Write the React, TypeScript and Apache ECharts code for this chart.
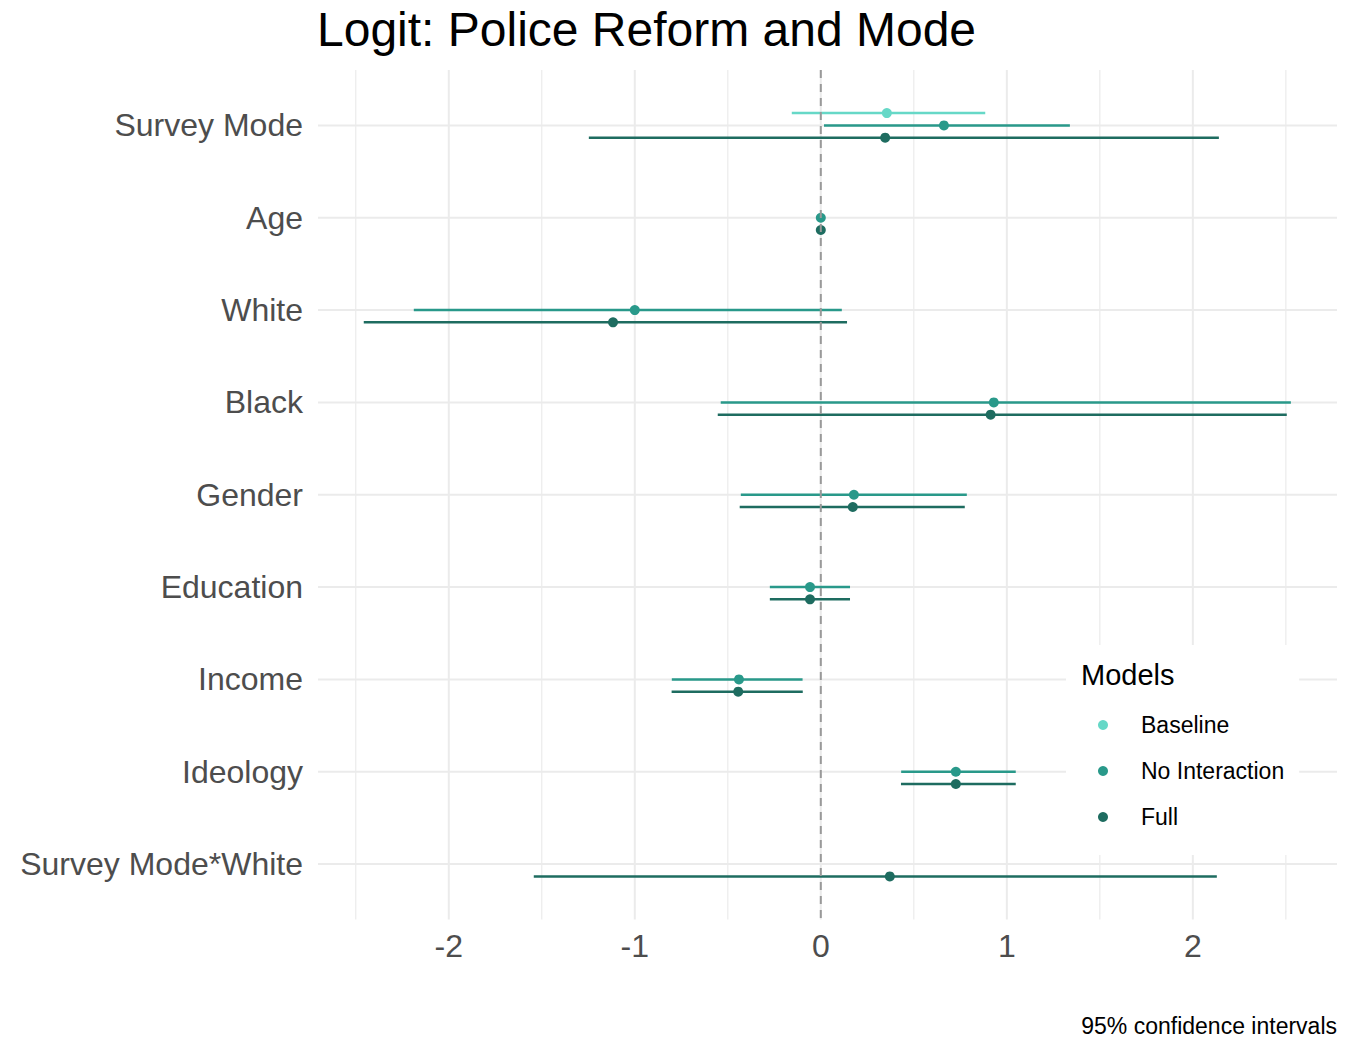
import React, { useEffect, useRef } from "react";
import * as echarts from "echarts";

const categories = [
  "Survey Mode",
  "Age",
  "White",
  "Black",
  "Gender",
  "Education",
  "Income",
  "Ideology",
  "Survey Mode*White",
];
const models = ["Baseline", "No Interaction", "Full"];

const baselineEst = [0.355, null, null, null, null, null, null, null, null];
const baselineLow = [-0.156, null, null, null, null, null, null, null, null];
const baselineHigh = [0.884, null, null, null, null, null, null, null, null];

const noIntEst = [0.662, 0.0, -1.0, 0.93, 0.178, -0.058, -0.44, 0.726, null];
const noIntLow = [0.017, -0.004, -2.188, -0.538, -0.43, -0.274, -0.801, 0.432, null];
const noIntHigh = [1.339, 0.004, 0.113, 2.527, 0.785, 0.157, -0.098, 1.048, null];

const fullEst = [0.346, 0.0, -1.117, 0.913, 0.172, -0.058, -0.444, 0.726, 0.371];
const fullLow = [-1.247, -0.004, -2.457, -0.554, -0.436, -0.274, -0.802, 0.431, -1.543];
const fullHigh = [2.14, 0.004, 0.141, 2.505, 0.774, 0.157, -0.097, 1.048, 2.129];

const xMajorTicks = [-2, -1, 0, 1, 2];
const xMinorTicks = [-2.5, -1.5, -0.5, 0.5, 1.5, 2.5];
const referenceValue = 0;

const colors = ["#66d8c7", "#29998a", "#1e6c60"];
const dodge = [-0.133, 0, 0.133];

const FONT = "'Liberation Sans', Arial, Helvetica, sans-serif";

function errorBarSeries(name: string, est: any[], low: any[], high: any[], color: string, off: number) {
  const data: number[][] = [];
  est.forEach((e, i) => {
    if (e !== null) data.push([low[i], high[i], i + off]);
  });
  return {
    type: "custom",
    name: name + " CI",
    silent: true,
    z: 3,
    encode: { x: [0, 1], y: 2 },
    data,
    renderItem: (params: any, api: any) => {
      const y = api.value(2);
      const p1 = api.coord([api.value(0), y]);
      const p2 = api.coord([api.value(1), y]);
      return {
        type: "line",
        shape: { x1: p1[0], y1: p1[1], x2: p2[0], y2: p2[1] },
        style: { stroke: color, lineWidth: 2.5 },
      };
    },
  };
}

function pointSeries(name: string, est: any[], color: string, off: number) {
  const data: number[][] = [];
  est.forEach((e, i) => {
    if (e !== null) data.push([e, i + off]);
  });
  return {
    type: "scatter",
    name,
    data,
    symbol: "circle",
    symbolSize: 10,
    itemStyle: { color, opacity: 1 },
    z: 4,
    silent: true,
  };
}

export default function App() {
  const ref = useRef<HTMLDivElement>(null);
  useEffect(() => {
    if (!ref.current) return;
    const chart = echarts.init(ref.current, null, { renderer: "svg" });

    const gridXData = [
      ...xMinorTicks.map((v) => [v, 4, 0]),
      ...xMajorTicks.map((v) => [v, 4, 1]),
    ];
    const gridYData = categories.map((c, i) => [0, i]);

    const option: any = {
      animation: false,
      backgroundColor: "#ffffff",
      grid: { left: 318, right: 15, top: 70, bottom: 118.5, containLabel: false },
      xAxis: {
        type: "value",
        min: -2.703,
        max: 2.775,
        axisLine: { show: false },
        axisTick: { show: false },
        axisLabel: { show: false },
        splitLine: { show: false },
      },
      yAxis: {
        type: "value",
        min: -0.6,
        max: 8.6,
        inverse: true,
        axisLine: { show: false },
        axisTick: { show: false },
        axisLabel: { show: false },
        splitLine: { show: false },
      },
      legend: {
        data: models,
        orient: "vertical",
        left: 1066,
        top: 645,
        padding: [68, 15, 26, 32],
        itemGap: 22,
        itemWidth: 10,
        itemHeight: 10,
        icon: "circle",
        backgroundColor: "#ffffff",
        selectedMode: false,
        z: 6,
        textStyle: {
          fontSize: 23,
          fontFamily: FONT,
          color: "#000000",
          lineHeight: 24,
          padding: [0, 0, 0, 28],
        },
      },
      graphic: [
        {
          type: "text",
          x: 317,
          y: 29,
          z: 100,
          style: {
            text: "Logit: Police Reform and Mode",
            fill: "#000000",
            font: `48px ${FONT}`,
            textAlign: "left",
            textVerticalAlign: "middle",
            align: "left",
            verticalAlign: "middle",
          },
        },
        {
          type: "text",
          x: 1081,
          y: 675,
          z: 100,
          style: {
            text: "Models",
            fill: "#000000",
            font: `29px ${FONT}`,
            textAlign: "left",
            textVerticalAlign: "middle",
            align: "left",
            verticalAlign: "middle",
          },
        },
        {
          type: "text",
          x: 1337,
          y: 1026,
          z: 100,
          style: {
            text: "95% confidence intervals",
            fill: "#000000",
            font: `23px ${FONT}`,
            textAlign: "right",
            textVerticalAlign: "middle",
            align: "right",
            verticalAlign: "middle",
          },
        },
      ],
      series: [
        {
          type: "custom",
          name: "gridX",
          silent: true,
          z: 1,
          data: gridXData,
          encode: { x: 0, y: 1 },
          renderItem: (params: any, api: any) => {
            const cs = params.coordSys;
            const v = api.value(0);
            const major = api.value(2) === 1;
            const x = api.coord([v, 4])[0];
            const children: any[] = [
              {
                type: "line",
                shape: { x1: x, y1: cs.y, x2: x, y2: cs.y + cs.height },
                style: { stroke: "#ebebeb", lineWidth: major ? 2 : 1.2 },
              },
            ];
            if (major) {
              children.push({
                type: "text",
                x,
                y: cs.y + cs.height + 26,
                style: {
                  text: String(v),
                  fill: "#4d4d4d",
                  fontSize: 32,
                  fontFamily: FONT,
                  align: "center",
                  verticalAlign: "middle",
                },
              });
            }
            return { type: "group", children };
          },
        },
        {
          type: "custom",
          name: "gridY",
          silent: true,
          z: 1,
          data: gridYData,
          encode: { x: 0, y: 1 },
          renderItem: (params: any, api: any) => {
            const cs = params.coordSys;
            const i = api.value(1);
            const y = api.coord([0, i])[1];
            return {
              type: "group",
              children: [
                {
                  type: "line",
                  shape: { x1: cs.x, y1: y, x2: cs.x + cs.width, y2: y },
                  style: { stroke: "#ebebeb", lineWidth: 2 },
                },
                {
                  type: "text",
                  x: cs.x - 15,
                  y,
                  style: {
                    text: categories[i],
                    fill: "#4d4d4d",
                    fontSize: 32,
                    fontFamily: FONT,
                    align: "right",
                    verticalAlign: "middle",
                  },
                },
              ],
            };
          },
        },
        errorBarSeries(models[0], baselineEst, baselineLow, baselineHigh, colors[0], dodge[0]),
        pointSeries(models[0], baselineEst, colors[0], dodge[0]),
        errorBarSeries(models[1], noIntEst, noIntLow, noIntHigh, colors[1], dodge[1]),
        pointSeries(models[1], noIntEst, colors[1], dodge[1]),
        errorBarSeries(models[2], fullEst, fullLow, fullHigh, colors[2], dodge[2]),
        pointSeries(models[2], fullEst, colors[2], dodge[2]),
        {
          type: "custom",
          name: "zero",
          silent: true,
          z: 5,
          data: [[referenceValue, 4]],
          encode: { x: 0, y: 1 },
          renderItem: (params: any, api: any) => {
            const cs = params.coordSys;
            const x = api.coord([api.value(0), 4])[0];
            return {
              type: "line",
              shape: { x1: x, y1: cs.y, x2: x, y2: cs.y + cs.height },
              style: { stroke: "#999999", lineWidth: 2, lineDash: [8, 6] },
            };
          },
        },
      ],
    };
    chart.setOption(option);
    return () => chart.dispose();
  }, []);

  return (
    <div
      ref={ref}
      style={{ position: "fixed", left: 0, top: 0, width: 1352, height: 1038, background: "#fff" }}
    />
  );
}
